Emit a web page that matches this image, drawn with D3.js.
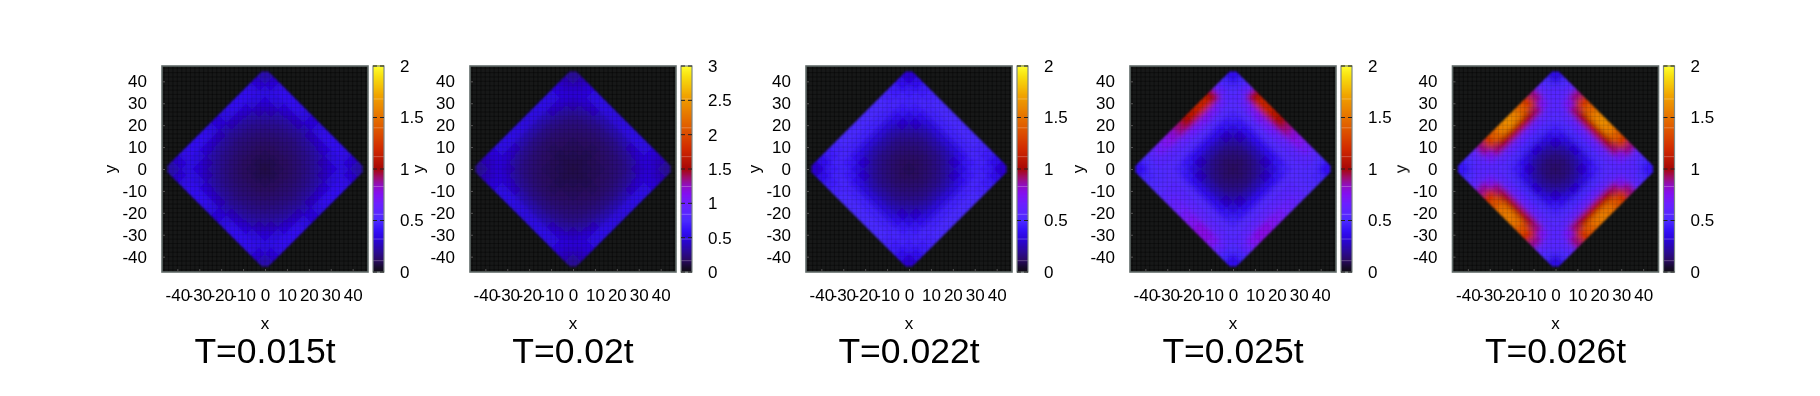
<!DOCTYPE html>
<html>
<head>
<meta charset="utf-8">
<script src="https://cdn.jsdelivr.net/npm/d3@7"></script>
<style>
  body { margin: 0; background: #fff; }
  text { font-family: "Liberation Sans", sans-serif; fill: #000; }
</style>
</head>
<body>
<div id="my_dataviz"></div>
<script>
// titles and colorbar tops
const titles = ["T=0.015t", "T=0.02t", "T=0.022t", "T=0.025t", "T=0.026t"];
const cbMax = [2, 3, 2, 2, 2];

const axisTicks = [-40, -30, -20, -10, 0, 10, 20, 30, 40];
const cbTicks2 = [0, 0.5, 1, 1.5, 2];
const cbTicks3 = [0, 0.5, 1, 1.5, 2, 2.5, 3];

// palette, fraction of the top value -> colour
const paletteStops = [0, 0.025, 0.06, 0.1, 0.15, 0.2, 0.25, 0.33, 0.38, 0.42, 0.46, 0.5, 0.6, 0.72, 0.85, 0.95, 1];
const paletteColors = ["#100c14", "#180a30", "#2c0a68", "#2c0a98", "#2a04d0", "#3410f8", "#4c2cff", "#6c20ff", "#8410f0", "#9010c0", "#a00f68", "#a80808", "#d22c00", "#e26400", "#f0a000", "#f8e010", "#ffff30"];
// paler streaks in the colorbar
const cbStreaks = [0.055, 0.16, 0.28, 0.415, 0.56, 0.7, 0.84];

// density on a lattice along the diamond edges:
// first row = upper right edge, last row = lower left edge,
// first column = upper left edge, last column = lower right edge
const heat015 = [
  [.24,.31,.36,.38,.38,.37,.34,.32,.34,.37,.38,.38,.36,.31,.24],
  [.31,.34,.35,.33,.30,.28,.26,.25,.26,.28,.30,.33,.35,.34,.31],
  [.36,.35,.30,.26,.23,.21,.20,.19,.20,.21,.23,.26,.30,.35,.36],
  [.38,.33,.26,.22,.19,.17,.16,.15,.16,.17,.19,.22,.26,.33,.38],
  [.38,.30,.23,.19,.16,.14,.13,.13,.13,.14,.16,.19,.23,.30,.38],
  [.37,.28,.21,.17,.14,.12,.11,.11,.11,.12,.14,.17,.21,.28,.37],
  [.34,.26,.20,.16,.13,.11,.10,.09,.10,.11,.13,.16,.20,.26,.34],
  [.32,.25,.19,.15,.13,.11,.09,.08,.09,.11,.13,.15,.19,.25,.32],
  [.34,.26,.20,.16,.13,.11,.10,.09,.10,.11,.13,.16,.20,.26,.34],
  [.37,.28,.21,.17,.14,.12,.11,.11,.11,.12,.14,.17,.21,.28,.37],
  [.38,.30,.23,.19,.16,.14,.13,.13,.13,.14,.16,.19,.23,.30,.38],
  [.38,.33,.26,.22,.19,.17,.16,.15,.16,.17,.19,.22,.26,.33,.38],
  [.36,.35,.30,.26,.23,.21,.20,.19,.20,.21,.23,.26,.30,.35,.36],
  [.31,.34,.35,.33,.30,.28,.26,.25,.26,.28,.30,.33,.35,.34,.31],
  [.24,.31,.36,.38,.38,.37,.34,.32,.34,.37,.38,.38,.36,.31,.24]
];
const heat020 = [
  [.30,.40,.48,.52,.53,.53,.51,.50,.51,.53,.53,.52,.48,.40,.30],
  [.40,.45,.47,.44,.40,.37,.35,.35,.35,.37,.40,.44,.47,.45,.40],
  [.48,.47,.39,.33,.29,.27,.25,.25,.25,.27,.29,.33,.39,.47,.48],
  [.52,.44,.33,.26,.23,.21,.20,.19,.20,.21,.23,.26,.33,.44,.52],
  [.53,.40,.29,.23,.20,.18,.17,.16,.17,.18,.20,.23,.29,.40,.53],
  [.53,.37,.27,.21,.18,.16,.15,.14,.15,.16,.18,.21,.27,.37,.53],
  [.51,.35,.25,.20,.17,.15,.14,.13,.14,.15,.17,.20,.25,.35,.51],
  [.50,.35,.25,.19,.16,.14,.13,.12,.13,.14,.16,.19,.25,.35,.50],
  [.51,.35,.25,.20,.17,.15,.14,.13,.14,.15,.17,.20,.25,.35,.51],
  [.53,.37,.27,.21,.18,.16,.15,.14,.15,.16,.18,.21,.27,.37,.53],
  [.53,.40,.29,.23,.20,.18,.17,.16,.17,.18,.20,.23,.29,.40,.53],
  [.52,.44,.33,.26,.23,.21,.20,.19,.20,.21,.23,.26,.33,.44,.52],
  [.48,.47,.39,.33,.29,.27,.25,.25,.25,.27,.29,.33,.39,.47,.48],
  [.40,.45,.47,.44,.40,.37,.35,.35,.35,.37,.40,.44,.47,.45,.40],
  [.30,.40,.48,.52,.53,.53,.51,.50,.51,.53,.53,.52,.48,.40,.30]
];
const heat022 = [
  [.30,.38,.44,.47,.49,.49,.49,.49,.49,.49,.49,.47,.44,.38,.30],
  [.38,.44,.47,.48,.47,.46,.46,.46,.46,.46,.47,.48,.47,.44,.38],
  [.44,.47,.46,.43,.38,.34,.33,.33,.33,.34,.38,.43,.46,.47,.44],
  [.47,.48,.43,.35,.29,.25,.23,.23,.23,.25,.29,.35,.43,.48,.47],
  [.49,.47,.38,.29,.23,.19,.17,.17,.17,.19,.23,.29,.38,.47,.49],
  [.49,.46,.34,.25,.19,.16,.14,.13,.14,.16,.19,.25,.34,.46,.49],
  [.49,.46,.33,.23,.17,.14,.12,.11,.12,.14,.17,.23,.33,.46,.49],
  [.49,.46,.33,.23,.17,.13,.11,.10,.11,.13,.17,.23,.33,.46,.49],
  [.49,.46,.33,.23,.17,.14,.12,.11,.12,.14,.17,.23,.33,.46,.49],
  [.49,.46,.34,.25,.19,.16,.14,.13,.14,.16,.19,.25,.34,.46,.49],
  [.49,.47,.38,.29,.23,.19,.17,.17,.17,.19,.23,.29,.38,.47,.49],
  [.47,.48,.43,.35,.29,.25,.23,.23,.23,.25,.29,.35,.43,.48,.47],
  [.44,.47,.46,.43,.38,.34,.33,.33,.33,.34,.38,.43,.46,.47,.44],
  [.38,.44,.47,.48,.47,.46,.46,.46,.46,.46,.47,.48,.47,.44,.38],
  [.30,.38,.44,.47,.49,.49,.49,.49,.49,.49,.49,.47,.44,.38,.30]
];
const heat025 = [
  [.38,.48,.62,1.00,1.15,1.15,1.08,1.00,.90,.80,.75,.68,.58,.50,.40],
  [.48,.52,.56,.64,.70,.72,.70,.67,.64,.60,.58,.57,.55,.52,.48],
  [.62,.56,.54,.53,.53,.53,.53,.53,.53,.53,.53,.53,.53,.52,.52],
  [1.00,.64,.53,.47,.42,.39,.38,.38,.38,.39,.42,.47,.53,.54,.54],
  [1.15,.70,.53,.42,.33,.27,.25,.24,.25,.27,.33,.42,.53,.55,.58],
  [1.15,.72,.53,.39,.27,.21,.17,.16,.17,.21,.27,.39,.53,.57,.62],
  [1.08,.70,.53,.38,.25,.17,.14,.12,.14,.17,.25,.38,.53,.58,.66],
  [1.00,.67,.53,.38,.24,.16,.12,.11,.12,.16,.24,.38,.53,.59,.70],
  [.90,.64,.53,.38,.25,.17,.14,.12,.14,.17,.25,.38,.53,.60,.74],
  [.80,.60,.53,.39,.27,.21,.17,.16,.17,.21,.27,.39,.53,.60,.78],
  [.75,.58,.53,.42,.33,.27,.25,.24,.25,.27,.33,.42,.54,.60,.78],
  [.68,.57,.53,.47,.42,.39,.38,.38,.38,.39,.42,.47,.54,.59,.74],
  [.58,.55,.53,.53,.53,.53,.53,.53,.53,.54,.54,.54,.54,.56,.62],
  [.50,.52,.52,.54,.55,.57,.58,.59,.60,.60,.60,.59,.56,.52,.48],
  [.40,.48,.52,.54,.58,.62,.66,.70,.74,.78,.78,.74,.62,.48,.38]
];
const heat026 = [
  [.35,.50,.60,.90,1.25,1.42,1.56,1.62,1.56,1.42,1.25,.90,.60,.50,.42],
  [.50,.55,.57,.72,.92,1.00,1.05,1.05,1.05,1.00,.92,.72,.57,.55,.50],
  [.60,.57,.56,.57,.60,.62,.62,.62,.62,.62,.60,.57,.56,.57,.60],
  [.90,.72,.57,.54,.52,.50,.48,.48,.48,.50,.52,.54,.57,.72,.90],
  [1.25,.92,.60,.52,.45,.38,.33,.31,.33,.38,.45,.52,.60,.92,1.22],
  [1.42,1.00,.62,.50,.38,.28,.22,.20,.22,.28,.38,.50,.62,1.00,1.38],
  [1.56,1.05,.62,.48,.33,.22,.16,.14,.16,.22,.33,.48,.62,1.05,1.50],
  [1.62,1.05,.62,.48,.31,.20,.14,.12,.14,.20,.31,.48,.62,1.05,1.55],
  [1.56,1.05,.62,.48,.33,.22,.16,.14,.16,.22,.33,.48,.62,1.05,1.50],
  [1.42,1.00,.62,.50,.38,.28,.22,.20,.22,.28,.38,.50,.62,1.00,1.38],
  [1.25,.92,.60,.52,.45,.38,.33,.31,.33,.38,.45,.52,.60,.92,1.22],
  [.90,.72,.57,.54,.52,.50,.48,.48,.48,.50,.52,.54,.57,.72,.90],
  [.60,.57,.56,.57,.60,.62,.62,.62,.62,.62,.60,.57,.56,.57,.60],
  [.50,.55,.57,.72,.90,.98,1.02,1.02,1.02,.98,.90,.72,.57,.55,.50],
  [.42,.50,.60,.88,1.20,1.36,1.50,1.55,1.50,1.36,1.20,.88,.60,.50,.35]
];
const panelHeat = [heat015, heat020, heat022, heat025, heat026];

// set the dimensions of the graph
const panelLeft = [162, 470, 806, 1130, 1452.5];
const plotTop = 66, plotSize = 206;
const cbGap = 5, cbWidth = 11;
const xDomain = [-47, 47];

const svg = d3.select("#my_dataviz")
  .append("svg")
    .attr("width", 1820)
    .attr("height", 396)
    .style("display", "block");

const defs = svg.append("defs");
defs.append("filter").attr("id", "smooth")
    .attr("x", "-20%").attr("y", "-20%").attr("width", "140%").attr("height", "140%")
  .append("feGaussianBlur").attr("stdDeviation", 2.6);
defs.append("filter").attr("id", "soft")
    .attr("x", "-5%").attr("y", "-5%").attr("width", "110%").attr("height", "110%")
  .append("feGaussianBlur").attr("stdDeviation", 0.8);
defs.append("filter").attr("id", "softText")
    .attr("x", "-10%").attr("y", "-10%").attr("width", "120%").attr("height", "120%")
  .append("feGaussianBlur").attr("stdDeviation", 0.3);

panelLeft.forEach(function(left, p) {
  const matrix = panelHeat[p];
  const top = cbMax[p];

  const x = d3.scaleLinear().domain(xDomain).range([0, plotSize]);
  const y = d3.scaleLinear().domain(xDomain).range([plotSize, 0]);

  const color = d3.scaleLinear()
    .domain(paletteStops.map(function(s) { return s * top; }))
    .range(paletteColors);

  const g = svg.append("g")
    .attr("transform", "translate(" + left + "," + plotTop + ")");

  g.append("rect")
    .attr("width", plotSize)
    .attr("height", plotSize)
    .attr("fill", "#171818");

  // Diamond: cells on a lattice turned by 45 degrees, centred on (0,0)
  const halfDiag = x(44.5) - x(0);
  const side = halfDiag * Math.SQRT2;
  const band = d3.scaleBand()
    .domain(d3.range(matrix.length))
    .range([-side / 2, side / 2]);
  const pad = band.bandwidth() * 2;
  const last = matrix.length - 1;

  // outline with the four tips cut a little
  const cid = "diamond" + p;
  defs.append("clipPath").attr("id", cid)
    .append("polygon")
    .attr("points", [[-1.5, 44.5], [1.5, 44.5], [44.5, 1.5], [44.5, -1.5], [1.5, -44.5], [-1.5, -44.5], [-44.5, -1.5], [-44.5, 1.5]]
      .map(function(c) { return x(c[0]) + "," + y(c[1]); }).join(" "));

  // fine dark mesh of the data grid, strong on the dark ground
  const mesh = d3.range(-46, 47, 2);
  const drawMesh = function(opacity) {
    g.append("g").selectAll("line")
      .data(mesh)
      .enter()
      .append("line")
        .attr("x1", function(d) { return x(d); })
        .attr("x2", function(d) { return x(d); })
        .attr("y1", 0)
        .attr("y2", plotSize)
        .attr("stroke", "#000")
        .attr("stroke-opacity", opacity);
    g.append("g").selectAll("line")
      .data(mesh)
      .enter()
      .append("line")
        .attr("y1", function(d) { return y(d); })
        .attr("y2", function(d) { return y(d); })
        .attr("x1", 0)
        .attr("x2", plotSize)
        .attr("stroke", "#000")
        .attr("stroke-opacity", opacity);
  };
  drawMesh(0.25);

  const cells = g.append("g")
      .attr("filter", "url(#soft)")
    .append("g")
      .attr("clip-path", "url(#" + cid + ")")
    .append("g")
      .attr("transform", "translate(" + x(0) + "," + y(0) + ") rotate(45)")
      .attr("filter", "url(#smooth)");

  const flat = [];
  matrix.forEach(function(row, i) {
    row.forEach(function(v, j) { flat.push({row: i, col: j, value: v}); });
  });

  // cells on the rim run on past the clip so the blur keeps their colour
  cells.selectAll("rect")
    .data(flat)
    .enter()
    .append("rect")
      .attr("x", function(d) { return band(d.col) - (d.col === 0 ? pad : 0); })
      .attr("y", function(d) { return band(d.row) - (d.row === 0 ? pad : 0); })
      .attr("width", function(d) {
        return band.bandwidth() + 0.6 + (d.col === 0 || d.col === last ? pad : 0);
      })
      .attr("height", function(d) {
        return band.bandwidth() + 0.6 + (d.row === 0 || d.row === last ? pad : 0);
      })
      .attr("fill", function(d) { return color(d.value); });

  drawMesh(0.12);

  g.append("rect")
    .attr("width", plotSize)
    .attr("height", plotSize)
    .attr("fill", "none")
    .attr("stroke", "#626c6a")
    .attr("stroke-width", 1.6);

  // X axis
  const xAxis = g.append("g")
    .attr("transform", "translate(0," + plotSize + ")")
    .attr("filter", "url(#softText)")
    .call(d3.axisBottom(x).tickValues(axisTicks).tickFormat(String)
      .tickSizeInner(-3).tickSizeOuter(0).tickPadding(17));
  // Y axis
  const yAxis = g.append("g")
    .attr("filter", "url(#softText)")
    .call(d3.axisLeft(y).tickValues(axisTicks).tickFormat(String)
      .tickSizeInner(-3).tickSizeOuter(0).tickPadding(15));
  [xAxis, yAxis].forEach(function(a) {
    a.select(".domain").remove();
    a.selectAll("line").attr("stroke", "#555");
    a.selectAll("text").style("font-size", "17px").style("font-family", "Liberation Sans");
  });

  g.append("text")
    .attr("x", x(0))
    .attr("y", 262.5)
    .attr("text-anchor", "middle")
    .attr("filter", "url(#softText)")
    .style("font-size", "17px")
    .text("x");

  g.append("text")
    .attr("transform", "translate(-46," + y(0) + ") rotate(-90)")
    .attr("text-anchor", "middle")
    .attr("filter", "url(#softText)")
    .style("font-size", "17px")
    .text("y");

  g.append("text")
    .attr("x", plotSize / 2)
    .attr("y", 297)
    .attr("text-anchor", "middle")
    .attr("filter", "url(#softText)")
    .style("font-size", "35.5px")
    .text(titles[p]);

  // Colorbar
  const cb = g.append("g")
    .attr("transform", "translate(" + (plotSize + cbGap) + ",0)");
  const cy = d3.scaleLinear().domain([0, top]).range([plotSize, 0]);
  const cbStep = top / plotSize;

  cb.selectAll("rect.step")
    .data(d3.range(0, top, cbStep))
    .enter()
    .append("rect")
      .attr("class", "step")
      .attr("x", 0)
      .attr("y", function(d) { return cy(d + cbStep); })
      .attr("width", cbWidth)
      .attr("height", 1.4)
      .attr("fill", function(d) { return color(d); });

  cb.selectAll("line.streak")
    .data(cbStreaks)
    .enter()
    .append("line")
      .attr("class", "streak")
      .attr("x1", 0)
      .attr("x2", cbWidth)
      .attr("y1", function(d) { return cy(d * top); })
      .attr("y2", function(d) { return cy(d * top); })
      .attr("stroke", "#fff")
      .attr("stroke-opacity", 0.25);

  cb.append("rect")
    .attr("width", cbWidth)
    .attr("height", plotSize)
    .attr("fill", "none")
    .attr("stroke", "#7d8785")
    .attr("stroke-width", 1.2);

  const ticks = top === 3 ? cbTicks3 : cbTicks2;
  const cbAxis = cb.append("g")
    .attr("transform", "translate(" + cbWidth + ",0)")
    .attr("filter", "url(#softText)")
    .call(d3.axisRight(cy).tickValues(ticks).tickFormat(String)
      .tickSizeInner(0).tickSizeOuter(0).tickPadding(16));
  cbAxis.select(".domain").remove();
  cbAxis.selectAll("text").style("font-size", "17px").style("font-family", "Liberation Sans");

  // dashed tick marks across the colorbar
  cb.selectAll("line.cbtick")
    .data(ticks)
    .enter()
    .append("line")
      .attr("class", "cbtick")
      .attr("x1", 0)
      .attr("x2", cbWidth)
      .attr("y1", function(d) { return cy(d); })
      .attr("y2", function(d) { return cy(d); })
      .attr("stroke", "#222")
      .attr("stroke-dasharray", "4,3");
});
</script>
</body>
</html>
